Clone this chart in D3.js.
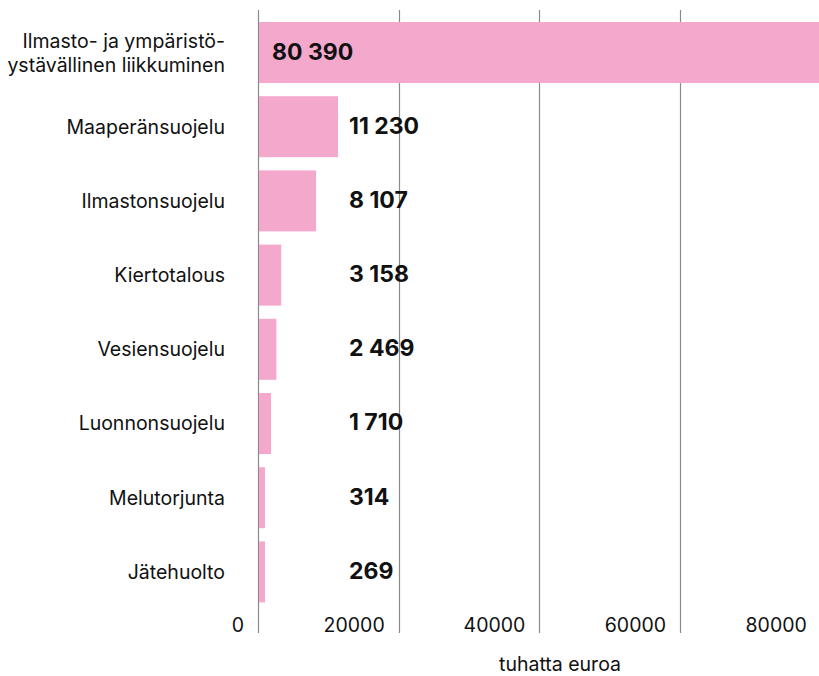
<!DOCTYPE html>
<html>
<head>
<meta charset="utf-8">
<script src="https://cdn.jsdelivr.net/npm/d3@7"></script>
<style>
  body { margin: 0; background: #fff; }
  .canvas text { font-family: Inter, "Noto Sans", sans-serif; fill: #111; }
  .cat-label { font-size: 19.5px; }
  .value-label { font-size: 23px; font-weight: 700; letter-spacing: 0px; }
  .tick-label { font-size: 19.5px; }
  .axis-title { font-size: 19.5px; }
</style>
</head>
<body>
<div class="canvas"></div>
<script>
var categories = [
  ['Ilmasto- ja ympäristö-', 'ystävällinen liikkuminen'],
  ['Maaperänsuojelu'],
  ['Ilmastonsuojelu'],
  ['Kiertotalous'],
  ['Vesiensuojelu'],
  ['Luonnonsuojelu'],
  ['Melutorjunta'],
  ['Jätehuolto']
];
var values = [80390, 11230, 8107, 3158, 2469, 1710, 314, 269];
var valueLabels = ['80 390', '11 230', '8 107', '3 158', '2 469', '1 710', '314', '269'];
var xTicks = [0, 20000, 40000, 60000, 80000];
var axisTitle = 'tuhatta euroa';

var pageWidth = 819,
    pageHeight = 676;
var margins = {t:9, l:258};
var minBar = 6; // tiny values still get a visible sliver

var svg = d3.select('.canvas')
    .append('svg')
    .attr('width', pageWidth)
    .attr('height', pageHeight);

var x = d3.scaleLinear()
    .domain([0, 80000])
    .range([margins.l, margins.l + 4*140.7]);

var y = d3.scaleBand()
    .domain(d3.range(categories.length))
    .range([8.8, 615.6])
    .padding(0.178);

// gridlines (bars sit on top of them)
svg.append('g')
    .selectAll('line')
    .data(xTicks)
    .enter()
    .append('line')
    .attr('x1', function(d){ return Math.round(x(d)) + 0.5; })
    .attr('x2', function(d){ return Math.round(x(d)) + 0.5; })
    .attr('y1', 10)
    .attr('y2', 633)
    .style('stroke', '#8a8a8a')
    .style('stroke-width', 1.2);

svg.append('g')
    .selectAll('rect')
    .data(values)
    .enter()
    .append('rect')
    .attr('x', x(0) + 1)
    .attr('y', function(d, i){ return y(i); })
    .attr('width', function(d){ return Math.max(minBar, x(d) - x(0)); })
    .attr('height', y.bandwidth())
    .style('fill', '#f4a8cc');

// category labels
var cat = svg.append('g')
    .selectAll('text')
    .data(categories)
    .enter()
    .append('text')
    .attr('class', 'cat-label')
    .attr('text-anchor', 'end')
    .attr('x', 225)
    .attr('y', function(d, i){ return y(i) + y.bandwidth()/2; });

cat.each(function(lines){
    var t = d3.select(this);
    var offset = -(lines.length - 1) * 12;
    lines.forEach(function(line, k){
        t.append('tspan')
            .attr('x', 225)
            .attr('dy', k === 0 ? (offset + 7) : 24)
            .text(line);
    });
});

// value labels
svg.append('g')
    .selectAll('text')
    .data(values)
    .enter()
    .append('text')
    .attr('class', 'value-label')
    .attr('x', function(d, i){ return i === 0 ? x(0) + 14 : x(0) + 91; })
    .attr('y', function(d, i){ return y(i) + y.bandwidth()/2 + 7; })
    .text(function(d, i){ return valueLabels[i]; });

// tick labels
svg.append('g')
    .selectAll('text')
    .data(xTicks)
    .enter()
    .append('text')
    .attr('class', 'tick-label')
    .attr('text-anchor', 'end')
    .attr('x', function(d){ return x(d) - 14; })
    .attr('y', 632)
    .text(function(d){ return d; });

svg.append('text')
    .attr('class', 'axis-title')
    .attr('text-anchor', 'middle')
    .attr('x', 560)
    .attr('y', 671)
    .text(axisTitle);
</script>
</body>
</html>
